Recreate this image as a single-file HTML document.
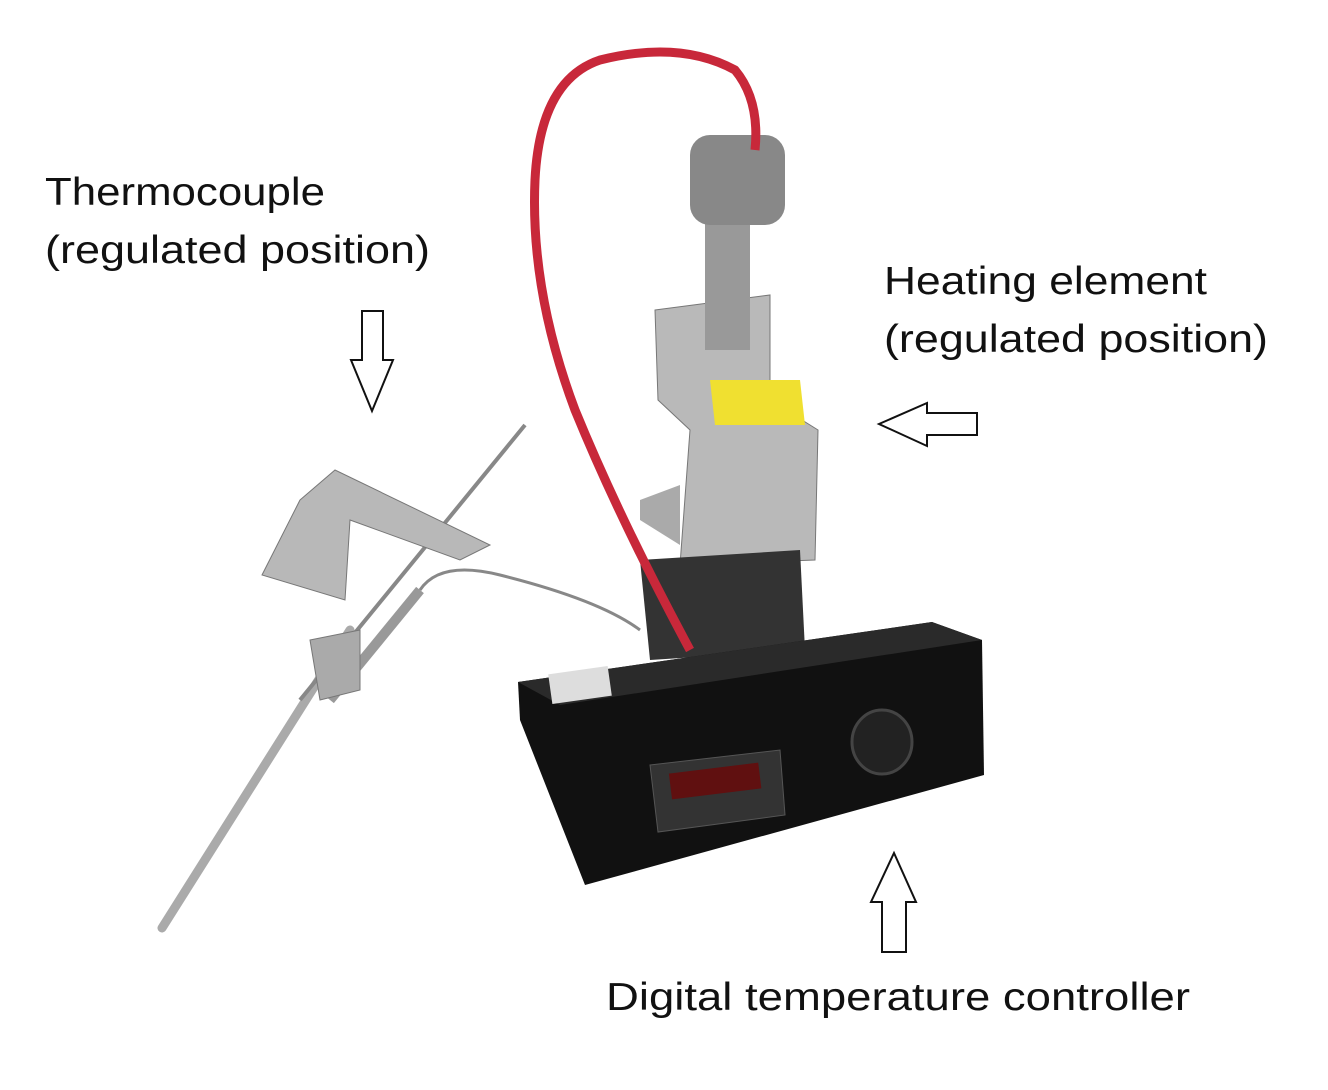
<!DOCTYPE html>
<html><head><meta charset="utf-8"><style>
html,body{margin:0;padding:0;background:#fff;}
svg{display:block}
text{font-family:"Liberation Sans",sans-serif;font-size:39px;fill:#111}
</style></head><body>
<svg width="1328" height="1090" viewBox="0 0 1328 1090">
<rect width="1328" height="1090" fill="#fff"/>
<text x="45" y="205" textLength="280" lengthAdjust="spacingAndGlyphs">Thermocouple</text>
<text x="45" y="263" textLength="385" lengthAdjust="spacingAndGlyphs">(regulated position)</text>
<text x="884" y="294" textLength="323" lengthAdjust="spacingAndGlyphs">Heating element</text>
<text x="884" y="352" textLength="384" lengthAdjust="spacingAndGlyphs">(regulated position)</text>
<text x="606" y="1010" textLength="584" lengthAdjust="spacingAndGlyphs">Digital temperature controller</text>
<!-- arrows -->
<polygon points="362,311 383,311 383,360 393,360 372,411 351,360 362,360" fill="#fff" stroke="#111" stroke-width="2"/>
<polygon points="977,413 927,413 927,403 879,424 927,446 927,435 977,435" fill="#fff" stroke="#111" stroke-width="2"/>
<polygon points="882,952 906,952 906,902 916,902 894,853 871,902 882,902" fill="#fff" stroke="#111" stroke-width="2"/>
<!-- probe -->
<line x1="162" y1="928" x2="350" y2="630" stroke="#aaa" stroke-width="9" stroke-linecap="round"/>
<line x1="300" y1="700" x2="525" y2="425" stroke="#888" stroke-width="4"/>
<line x1="330" y1="700" x2="420" y2="590" stroke="#999" stroke-width="10"/>
<path d="M420,590 Q440,560 500,575 Q600,600 640,630" stroke="#888" stroke-width="3" fill="none"/>
<!-- bracket left -->
<polygon points="300,500 335,470 490,545 460,560 350,520 345,600 262,575" fill="#b8b8b8" stroke="#777"/>
<polygon points="310,640 360,630 360,690 320,700" fill="#aaa" stroke="#777"/>
<!-- heater bracket -->
<polygon points="655,310 770,295 770,400 818,430 815,560 680,565 690,430 658,400" fill="#b9b9b9" stroke="#777"/>
<polygon points="710,380 800,380 805,425 715,425" fill="#f0e030"/>
<rect x="705" y="220" width="45" height="130" fill="#999"/>
<rect x="690" y="135" width="95" height="90" rx="20" fill="#888"/>
<polygon points="640,500 680,485 680,545 640,520" fill="#aaa"/>
<!-- terminal block -->
<polygon points="640,560 800,550 805,650 650,660" fill="#333"/>
<!-- controller box -->
<polygon points="518,682 932,622 982,640 984,775 585,885 520,720" fill="#111"/>
<polygon points="518,682 932,622 982,640 560,705" fill="#2a2a2a"/>
<rect x="550" y="670" width="60" height="30" fill="#ddd" transform="rotate(-8 580 685)"/>
<polygon points="650,765 780,750 785,815 658,832" fill="#333" stroke="#555"/>
<rect x="670" y="768" width="90" height="26" fill="#601010" transform="rotate(-7 715 780)"/>
<ellipse cx="882" cy="742" rx="30" ry="32" fill="#222" stroke="#444" stroke-width="3"/>
<!-- red cable -->
<path d="M690,650 Q620,520 575,410 Q530,290 535,180 Q540,80 600,60 Q680,40 735,70 Q760,100 755,150" stroke="#c8283a" stroke-width="9" fill="none"/>
</svg>
</body></html>
